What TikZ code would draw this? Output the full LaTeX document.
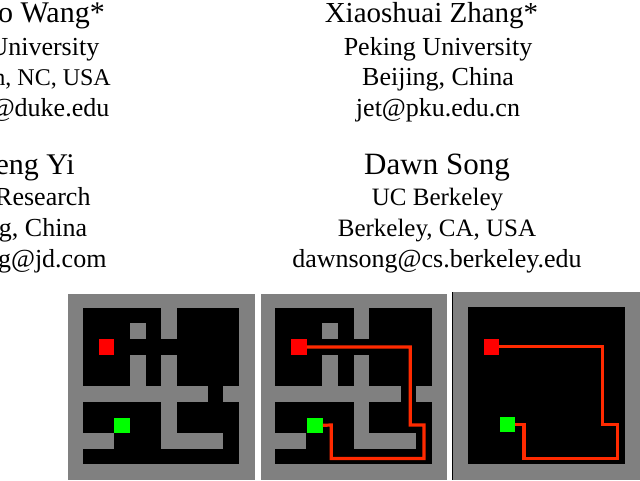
\documentclass[tikz,border=0pt]{standalone}
\usepackage{fontspec}
\setmainfont{Liberation Serif}
\tikzset{
  nm/.style={anchor=base,inner sep=0pt,font=\fontsize{30}{30}\selectfont},
  nmx/.style={anchor=base,inner sep=0pt,font=\fontsize{29}{29}\selectfont},
  nmd/.style={anchor=base,inner sep=0pt,font=\fontsize{31}{31}\selectfont},
  af/.style={anchor=base,inner sep=0pt,font=\fontsize{26}{26}\selectfont},
  afs/.style={anchor=base,inner sep=0pt,font=\fontsize{25}{25}\selectfont},
  aft/.style={anchor=base,inner sep=0pt,font=\fontsize{24}{24}\selectfont},
  nmr/.style={nm,anchor=base east},
  afr/.style={af,anchor=base east},
  aftr/.style={aft,anchor=base east},
  wall/.style={fill=mazegray,draw=none},
  goalbox/.style={fill=red,draw=none,minimum width=15.6pt,minimum height=15.6pt,inner sep=0pt,outer sep=0pt},
  startbox/.style={fill=green,draw=none,minimum width=15.6pt,minimum height=15.6pt,inner sep=0pt,outer sep=0pt},
  route/.style={draw=routered,line width=3.2pt,line join=miter},
}
\definecolor{mazegray}{HTML}{808080}
\definecolor{routered}{HTML}{FF2A00}
\newcommand{\mazewalls}{%
  \fill[wall] (5,0) rectangle (6,2);
  \fill[wall] (3,1) rectangle (4,2);
  \fill[wall] (3,3) rectangle (4,5);
  \fill[wall] (5,3) rectangle (6,9);
  \fill[wall] (0,5) rectangle (8,6);
  \fill[wall] (9,5) rectangle (10,6);
  \fill[wall] (5,8) rectangle (9,9);
  \fill[wall] (0,8) rectangle (2,9);
}
\begin{document}
\begin{tikzpicture}[x=1pt,y=-1pt]
\useasboundingbox (0,0) rectangle (640,480);
\clip (0,0) rectangle (640,480);
% text, left column
\node[nmr] (a1) at (105,22.7) {o Wang*};
\node[afr] (a2) at (99.5,55) {University};
\node[aftr] (a3) at (111,85.5) {m, NC, USA};
\node[afr] (a4) at (109.5,116.5) {@duke.edu};
\node[nmr] (b1) at (75,174) {eng Yi};
\node[afr] (b2) at (90.7,205) {Research};
\node[afr] (b3) at (87.3,236) {g, China};
\node[afr] (b4) at (106.7,267.6) {g@jd.com};
% text, right column
\node[nmx] (c1) at (431.5,22.7) {Xiaoshuai Zhang*};
\node[af] (c2) at (438,55) {Peking University};
\node[af] (c3) at (438,85.5) {Beijing, China};
\node[af] (c4) at (438,116.5) {jet@pku.edu.cn};
\node[nmd] (d1) at (437,174) {Dawn Song};
\node[afs] (d2) at (437.5,205) {UC Berkeley};
\node[afs] (d3) at (437,236) {Berkeley, CA, USA};
\node[af] (d4) at (437,267.6) {dawnsong@cs.berkeley.edu};
% maze 1
\fill[mazegray] (68,294) rectangle (254.7,480);
\fill[black] (83.3,307.7) rectangle (239,464.3);
\begin{scope}[shift={(83.3,307.7)},x=15.57pt,y=-15.66pt]
  \mazewalls
\end{scope}
\node[goalbox] (r1) at (106.6,347) {};
\node[startbox] (g1) at (122.2,425.3) {};
% maze 2
\fill[mazegray] (260.7,294) rectangle (446.7,480);
\fill[black] (275,307.7) rectangle (432,464.3);
\begin{scope}[shift={(275,307.7)},x=15.7pt,y=-15.66pt]
  \mazewalls
\end{scope}
\node[goalbox] (r2) at (299,347) {};
\node[startbox] (g2) at (315,425.3) {};
\draw[route] (r2.east) -- (410.3,347) -- (410.3,425) -- (424,425) -- (424,458.5) -- (331.3,458.5) -- (331.3,425) -- (g2.east);
% maze 3
\fill[black] (451.5,292) rectangle (453,480);
\fill[mazegray] (453,292) rectangle (640,480);
\fill[black] (467.7,307) rectangle (625,464.3);
\node[goalbox] (r3) at (491.5,346.7) {};
\node[startbox] (g3) at (507.3,424.3) {};
\draw[route] (r3.east) -- (602.3,346.7) -- (602.3,424.3) -- (617.3,424.3) -- (617.3,458.3) -- (524,458.3) -- (524,424.3) -- (g3.east);
\end{tikzpicture}
\end{document}
